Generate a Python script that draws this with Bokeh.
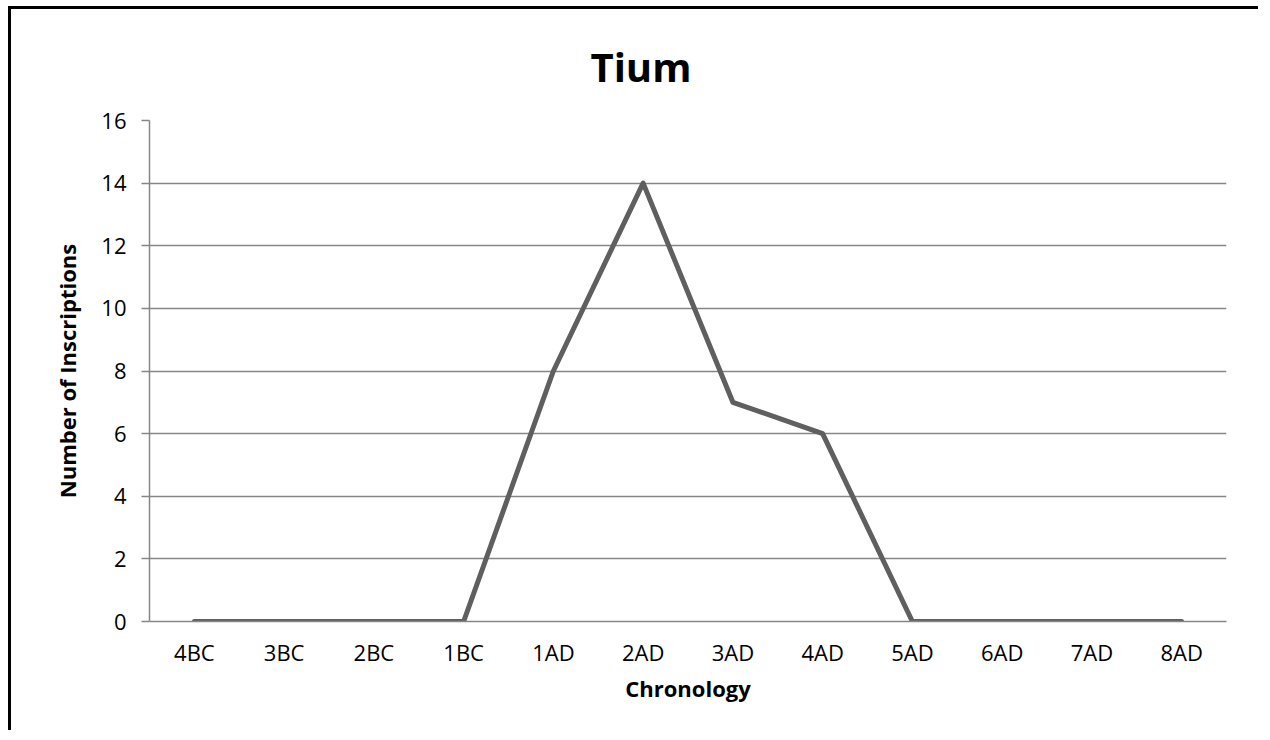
from bokeh.plotting import figure
from bokeh.models import FactorRange, Range1d, SingleIntervalTicker, Title
from bokeh.embed import file_html
from bokeh.resources import INLINE

categories = ["4BC", "3BC", "2BC", "1BC", "1AD", "2AD", "3AD", "4AD", "5AD", "6AD", "7AD", "8AD"]
inscriptions = [0, 0, 0, 0, 8, 14, 7, 6, 0, 0, 0, 0]
title_text = "Tium"
x_label = "Chronology"
y_label = "Number of Inscriptions"

FONT = "Open Sans"
GRID = "#868686"
W, H = 1250, 724

p = figure(
    x_range=FactorRange(factors=categories, range_padding=0),
    y_range=Range1d(0, 16),
    width=W, height=H,
    output_backend="svg", toolbar_location=None,
    min_border_left=138, min_border_right=35,
    min_border_top=111, min_border_bottom=112,
)
p.styles = {"border-top": "3px solid black", "border-left": "3px solid black",
            "margin-left": "8px", "margin-top": "6px"}

t = Title(text=title_text, align="left", offset=441,
          text_font=FONT, text_font_size="40px", text_font_style="bold",
          text_color="black", standoff=54)
p.add_layout(t, "above")

p.outline_line_color = None
p.background_fill_color = "white"
p.border_fill_color = "white"

p.line(x=categories, y=inscriptions, line_color="#5f5f5f", line_width=5,
       line_join="round", line_cap="round")

p.xgrid.grid_line_color = None
p.ygrid.grid_line_color = GRID
p.ygrid.grid_line_width = 1.5

p.yaxis.ticker = SingleIntervalTicker(interval=2)
p.yaxis.axis_line_color = GRID
p.yaxis.axis_line_width = 1.5
p.yaxis.major_tick_line_color = GRID
p.yaxis.major_tick_line_width = 1.5
p.yaxis.major_tick_out = 8
p.yaxis.major_tick_in = 0
p.yaxis.minor_tick_line_color = None
p.yaxis.major_label_standoff = 15
p.yaxis.major_label_text_font = FONT
p.yaxis.major_label_text_font_size = "22px"
p.yaxis.major_label_text_color = "black"
p.yaxis.axis_label = y_label
p.yaxis.axis_label_text_font = FONT
p.yaxis.axis_label_text_font_size = "22px"
p.yaxis.axis_label_text_font_style = "bold"
p.yaxis.axis_label_text_color = "black"
p.yaxis.axis_label_standoff = 16

p.xaxis.axis_line_color = GRID
p.xaxis.axis_line_width = 1.5
p.xaxis.major_tick_line_color = None
p.xaxis.major_tick_out = 0
p.xaxis.major_tick_in = 0
p.xaxis.minor_tick_line_color = None
p.xaxis.major_label_standoff = 15
p.xaxis.major_label_text_font = FONT
p.xaxis.major_label_text_font_size = "22px"
p.xaxis.major_label_text_color = "black"
p.xaxis.axis_label = x_label
p.xaxis.axis_label_text_font = FONT
p.xaxis.axis_label_text_font_size = "22px"
p.xaxis.axis_label_text_font_style = "bold"
p.xaxis.axis_label_text_color = "black"
p.xaxis.axis_label_standoff = 3

open("out.html", "w").write(file_html(p, INLINE))
